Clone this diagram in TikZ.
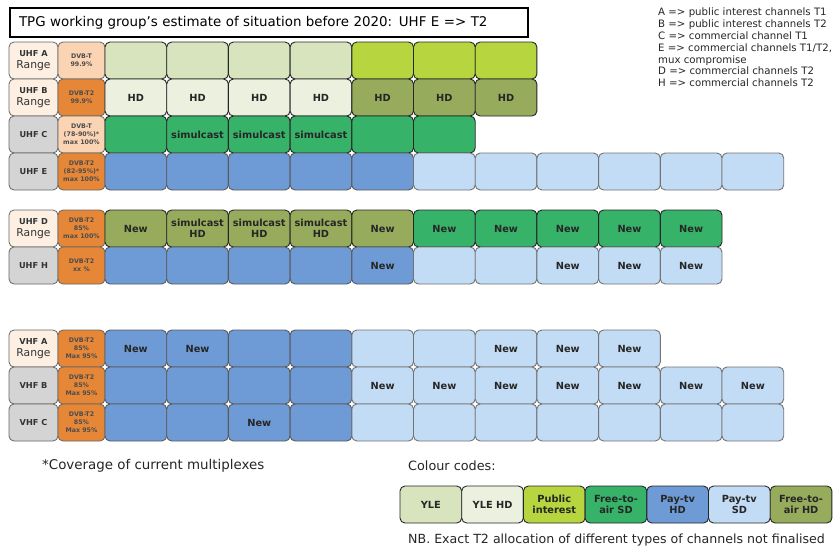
\documentclass[tikz,border=0pt]{standalone}
\usepackage{fontspec}
\setmainfont{DejaVu Sans}
\definecolor{yle}{RGB}{215,228,189}
\definecolor{ylehd}{RGB}{235,241,222}
\definecolor{pubint}{RGB}{182,213,62}
\definecolor{ftasd}{RGB}{55,178,105}
\definecolor{payhd}{RGB}{110,155,214}
\definecolor{paysd}{RGB}{195,220,245}
\definecolor{ftahd}{RGB}{150,172,92}
\definecolor{peach}{RGB}{251,212,180}
\definecolor{orng}{RGB}{230,135,55}
\definecolor{cream}{RGB}{253,240,226}
\definecolor{lgray}{RGB}{212,212,212}
\newcommand\lbx{\bfseries\fontsize{8.2}{9.5}\selectfont}
\begin{document}
\begin{tikzpicture}[x=1pt,y=-1pt,
  cellbox/.style={rectangle, rounded corners=5pt, draw=black!85, line width=0.9pt,
    minimum width=61.7pt, minimum height=37pt, inner sep=0pt, align=center,
    font=\bfseries\fontsize{9.8}{10.8}\selectfont, text=black!85},
  labbox/.style={rectangle, rounded corners=5pt, draw=black!60, line width=0.8pt,
    minimum width=49pt, minimum height=37pt, inner sep=0pt, align=center,
    font=\fontsize{10.8}{12}\selectfont, text=black!80},
  dvbbox/.style={rectangle, rounded corners=5pt, draw=black!60, line width=0.8pt,
    minimum width=47pt, minimum height=37pt, inner sep=0pt, align=center,
    font=\bfseries\fontsize{6.3}{8}\selectfont, text=black!70},
  notetext/.style={anchor=west, inner sep=0pt, text=black!85}
]
\useasboundingbox (0,0) rectangle (840,552);
\fill[white] (0,0) rectangle (840,552);

% title
\node[draw, line width=1.4pt, text width=500pt, inner xsep=9pt, minimum height=29pt,
  align=left, font=\fontsize{13.4}{15}\selectfont] (title) at (269,22.5)
  {TPG working group's estimate of situation before 2020: UHF E => T2};

% key
\node[anchor=north west, align=left, inner sep=0pt, font=\fontsize{10.2}{11.8}\selectfont, text=black!85] (key) at (658,8)
  {A => public interest channels T1\\B => public interest channels T2\\C => commercial channel T1\\E => commercial channels T1/T2,\\mux compromise\\D => commercial channels T2\\H => commercial channels T2};

% row labels
\node[labbox, fill=cream] (lA) at (33.5,60.5) {{\lbx UHF A}\\Range};
\node[labbox, fill=cream] (lB) at (33.5,97.5) {{\lbx UHF B}\\Range};
\node[labbox, fill=lgray] (lC) at (33.5,134.5) {\lbx UHF C};
\node[labbox, fill=lgray] (lE) at (33.5,171.5) {\lbx UHF E};
\node[labbox, fill=cream] (lD) at (33.5,228.5) {{\lbx UHF D}\\Range};
\node[labbox, fill=lgray] (lH) at (33.5,265.5) {\lbx UHF H};
\node[labbox, fill=cream] (lVA) at (33.5,348.5) {{\lbx VHF A}\\Range};
\node[labbox, fill=lgray] (lVB) at (33.5,385.5) {\lbx VHF B};
\node[labbox, fill=lgray] (lVC) at (33.5,422.5) {\lbx VHF C};

% DVB column
\node[dvbbox, fill=peach] (dA) at (81.5,60.5) {DVB-T\\99.9\%};
\node[dvbbox, fill=orng] (dB) at (81.5,97.5) {DVB-T2\\99.9\%};
\node[dvbbox, fill=peach] (dC) at (81.5,134.5) {DVB-T\\(78-90\%)*\\max 100\%};
\node[dvbbox, fill=orng] (dE) at (81.5,171.5) {DVB-T2\\(82-95\%)*\\max 100\%};
\node[dvbbox, fill=orng] (dD) at (81.5,228.5) {DVB-T2\\85\%\\max 100\%};
\node[dvbbox, fill=orng] (dH) at (81.5,265.5) {DVB-T2\\xx \%};
\node[dvbbox, fill=orng] (dVA) at (81.5,348.5) {DVB-T2\\85\%\\Max 95\%};
\node[dvbbox, fill=orng] (dVB) at (81.5,385.5) {DVB-T2\\85\%\\Max 95\%};
\node[dvbbox, fill=orng] (dVC) at (81.5,422.5) {DVB-T2\\85\%\\Max 95\%};

% cells
\foreach \k/\c/\t in {1/yle/,2/yle/,3/yle/,4/yle/,5/pubint/,6/pubint/,7/pubint/}
  \node[cellbox, fill=\c] (A\k) at ({105+61.7*(\k-1)+30.85},60.5) {\t};
\foreach \k/\c/\t in {1/ylehd/HD,2/ylehd/HD,3/ylehd/HD,4/ylehd/HD,5/ftahd/HD,6/ftahd/HD,7/ftahd/HD}
  \node[cellbox, fill=\c] (B\k) at ({105+61.7*(\k-1)+30.85},97.5) {\t};
\foreach \k/\c/\t in {1/ftasd/,2/ftasd/simulcast,3/ftasd/simulcast,4/ftasd/simulcast,5/ftasd/,6/ftasd/}
  \node[cellbox, fill=\c] (C\k) at ({105+61.7*(\k-1)+30.85},134.5) {\t};
\foreach \k in {1,...,5}
  \node[cellbox, fill=payhd, draw=black!65] (E\k) at ({105+61.7*(\k-1)+30.85},171.5) {};
\foreach \k in {6,...,11}
  \node[cellbox, fill=paysd, draw=black!55] (E\k) at ({105+61.7*(\k-1)+30.85},171.5) {};
\foreach \k/\c/\t in {1/ftahd/New,2/ftahd/{simulcast\\HD},3/ftahd/{simulcast\\HD},4/ftahd/{simulcast\\HD},5/ftahd/New,6/ftasd/New,7/ftasd/New,8/ftasd/New,9/ftasd/New,10/ftasd/New}
  \node[cellbox, fill=\c] (D\k) at ({105+61.7*(\k-1)+30.85},228.5) {\t};
\foreach \k/\t in {1/,2/,3/,4/,5/New}
  \node[cellbox, fill=payhd, draw=black!65] (H\k) at ({105+61.7*(\k-1)+30.85},265.5) {\t};
\foreach \k/\t in {6/,7/,8/New,9/New,10/New}
  \node[cellbox, fill=paysd, draw=black!55] (H\k) at ({105+61.7*(\k-1)+30.85},265.5) {\t};
\foreach \k/\t in {1/New,2/New,3/,4/}
  \node[cellbox, fill=payhd, draw=black!65] (VA\k) at ({105+61.7*(\k-1)+30.85},348.5) {\t};
\foreach \k/\t in {5/,6/,7/New,8/New,9/New}
  \node[cellbox, fill=paysd, draw=black!55] (VA\k) at ({105+61.7*(\k-1)+30.85},348.5) {\t};
\foreach \k in {1,...,4}
  \node[cellbox, fill=payhd, draw=black!65] (VB\k) at ({105+61.7*(\k-1)+30.85},385.5) {};
\foreach \k in {5,...,11}
  \node[cellbox, fill=paysd, draw=black!55] (VB\k) at ({105+61.7*(\k-1)+30.85},385.5) {New};
\foreach \k/\t in {1/,2/,3/New,4/}
  \node[cellbox, fill=payhd, draw=black!65] (VC\k) at ({105+61.7*(\k-1)+30.85},422.5) {\t};
\foreach \k in {5,...,11}
  \node[cellbox, fill=paysd, draw=black!55] (VC\k) at ({105+61.7*(\k-1)+30.85},422.5) {};

% notes
\node[notetext, font=\fontsize{13.4}{15}\selectfont] (cov) at (42,466) {*Coverage of current multiplexes};
\node[notetext, font=\fontsize{12.8}{15}\selectfont] (cc) at (408,466) {Colour codes:};
\node[notetext, font=\fontsize{12.6}{15}\selectfont] (nb) at (408,540) {NB. Exact T2 allocation of different types of channels not finalised};

% colour code legend
\foreach \k/\c/\t in {1/yle/YLE,2/ylehd/YLE HD,3/pubint/{Public\\interest},4/ftasd/{Free-to-\\air SD},5/payhd/{Pay-tv\\HD},6/paysd/{Pay-tv\\SD},7/ftahd/{Free-to-\\air HD}}
  \node[cellbox, fill=\c] (L\k) at ({400+61.7*(\k-1)+30.85},504.5) {\t};
\end{tikzpicture}
\end{document}
